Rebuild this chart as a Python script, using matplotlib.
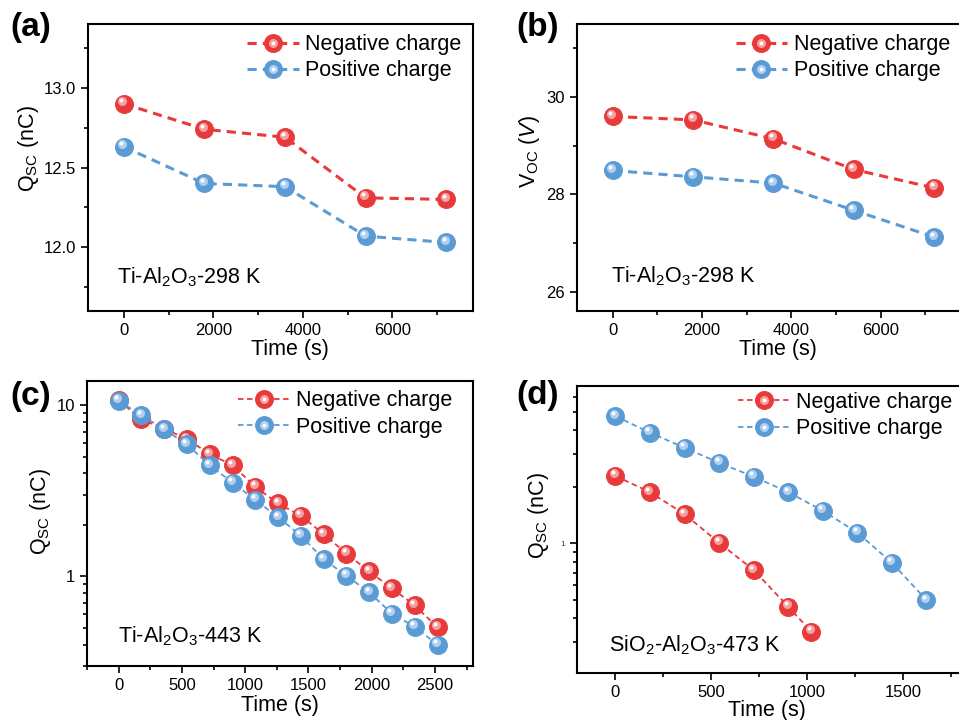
import numpy as np
import matplotlib.pyplot as plt
from matplotlib.transforms import offset_copy
from matplotlib.ticker import (AutoMinorLocator, FixedLocator, FuncFormatter,
                               NullFormatter)
from matplotlib.legend_handler import HandlerTuple

plt.rcParams['font.family'] = ['Liberation Sans', 'DejaVu Sans']
plt.rcParams['mathtext.fontset'] = 'custom'
plt.rcParams['mathtext.rm'] = 'Liberation Sans'
plt.rcParams['mathtext.it'] = 'Liberation Sans:italic'
plt.rcParams['mathtext.bf'] = 'Liberation Sans:bold'
plt.rcParams['mathtext.default'] = 'regular'

# (a) / (b): Ti-Al2O3 at 298 K
t_298 = [0, 1800, 3600, 5400, 7200]
q_298_neg = [12.90, 12.74, 12.69, 12.31, 12.30]
q_298_pos = [12.63, 12.40, 12.38, 12.07, 12.03]
v_298_neg = [29.60, 29.53, 29.14, 28.51, 28.13]
v_298_pos = [28.49, 28.36, 28.23, 27.67, 27.12]

# (c): Ti-Al2O3 at 443 K
t_443 = [0, 180, 360, 540, 720, 900, 1080, 1260, 1440, 1620, 1800, 1980,
         2160, 2340, 2520]
q_443_neg = [10.7, 8.26, 7.31, 6.34, 5.19, 4.46, 3.34, 2.67, 2.26, 1.77,
             1.36, 1.07, 0.851, 0.678, 0.504]
q_443_pos = [10.6, 8.75, 7.24, 5.90, 4.46, 3.53, 2.80, 2.22, 1.73, 1.26,
             1.01, 0.807, 0.607, 0.507, 0.400]

# (d): SiO2-Al2O3 at 473 K
t_473_neg = [0, 180, 360, 540, 720, 900, 1020]
q_473_neg = [2.28, 1.87, 1.43, 1.007, 0.722, 0.461, 0.340]
t_473_pos = [0, 180, 360, 540, 720, 900, 1080, 1260, 1440, 1620]
q_473_pos = [4.74, 3.87, 3.22, 2.68, 2.26, 1.87, 1.49, 1.14, 0.789, 0.50]

RED, RED_HI = '#e8393b', '#f5a0a0'
BLUE, BLUE_HI = '#5b9bd5', '#b0cff0'
FS = 15.5

fig = plt.figure(figsize=(9.59, 7.2), dpi=100)
ax_a = fig.add_axes([0.0918, 0.568, 0.4015, 0.3986])
ax_b = fig.add_axes([0.6017, 0.568, 0.4004, 0.3986])
ax_c = fig.add_axes([0.0907, 0.075, 0.4025, 0.3958])
ax_d = fig.add_axes([0.6017, 0.0653, 0.4004, 0.3986])


def sphere_line(ax, x, y, color, hi, lw, dashes, label):
    base, = ax.plot(x, y, color=color, lw=lw, dashes=dashes, marker='o',
                    ms=13, mfc=color, mec=color, mew=0.6, label=label)
    tr1 = offset_copy(ax.transData, fig=fig, x=-1.5, y=2.5, units='dots')
    tr2 = offset_copy(ax.transData, fig=fig, x=-2.5, y=3.5, units='dots')
    h1, = ax.plot(x, y, ls='none', marker='o', ms=6.5, mfc=hi, mec='none',
                  transform=tr1)
    h2, = ax.plot(x, y, ls='none', marker='o', ms=2.8, mfc='white',
                  mec='none', transform=tr2)
    return (base, h1, h2)


def style(ax):
    for s in ax.spines.values():
        s.set_linewidth(1.5)
    ax.tick_params(which='both', direction='out', top=False, right=False,
                   width=1.2, labelsize=12)
    ax.tick_params(which='major', length=5)
    ax.tick_params(which='minor', length=3)


def finish(ax, handles, lx, ly, note, nx, ny, xlab, ylab, ylx, yly):
    ax.legend(handles, ['Negative charge', 'Positive charge'],
              handler_map={tuple: HandlerTuple(ndivide=1)},
              loc='upper left', bbox_to_anchor=(lx, ly), frameon=False,
              fontsize=FS, handlelength=2.4, handletextpad=0.3,
              labelspacing=0.25, borderpad=0, borderaxespad=0, numpoints=1)
    ax.text(nx, ny, note, transform=ax.transAxes, va='center', fontsize=FS)
    ax.set_xlabel('Time (s)', fontsize=FS)
    ax.set_ylabel(ylab, fontsize=FS)
    ax.xaxis.set_label_coords(*xlab)
    ax.yaxis.set_label_coords(ylx, yly)


# (a) short-circuit charge at 298 K
hn = sphere_line(ax_a, t_298, q_298_neg, RED, RED_HI, 2.2, (3, 2), 'Negative charge')
hp = sphere_line(ax_a, t_298, q_298_pos, BLUE, BLUE_HI, 2.2, (3, 2), 'Positive charge')
style(ax_a)
ax_a.set_xlim(-800, 7800)
ax_a.set_ylim(11.6, 13.4)
ax_a.set_xticks([0, 2000, 4000, 6000])
ax_a.set_yticks([12.0, 12.5, 13.0])
ax_a.yaxis.set_major_formatter(FuncFormatter(lambda v, p: f'{v:.1f}'))
ax_a.xaxis.set_minor_locator(AutoMinorLocator(2))
ax_a.yaxis.set_minor_locator(AutoMinorLocator(2))
finish(ax_a, [hn, hp], 0.413, 0.965, r'Ti-Al$_2$O$_3$-298 K', 0.075, 0.118,
       (0.525, -0.099), r'Q$_{SC}$ (nC)', -0.122, 0.565)

# (b) open-circuit voltage at 298 K
hn = sphere_line(ax_b, t_298, v_298_neg, RED, RED_HI, 2.2, (3, 2), 'Negative charge')
hp = sphere_line(ax_b, t_298, v_298_pos, BLUE, BLUE_HI, 2.2, (3, 2), 'Positive charge')
style(ax_b)
ax_b.set_xlim(-800, 7800)
ax_b.set_ylim(25.6, 31.5)
ax_b.set_xticks([0, 2000, 4000, 6000])
ax_b.set_yticks([26, 28, 30])
ax_b.xaxis.set_minor_locator(AutoMinorLocator(2))
ax_b.yaxis.set_minor_locator(AutoMinorLocator(2))
finish(ax_b, [hn, hp], 0.413, 0.965, r'Ti-Al$_2$O$_3$-298 K', 0.089, 0.12,
       (0.524, -0.099), r'V$_{OC}$ ($\mathit{V}$)', -0.091, 0.555)

# (c) charge decay at 443 K, log scale
hn = sphere_line(ax_c, t_443, q_443_neg, RED, RED_HI, 1.3, (3, 2), 'Negative charge')
hp = sphere_line(ax_c, t_443, q_443_pos, BLUE, BLUE_HI, 1.3, (3, 2), 'Positive charge')
style(ax_c)
ax_c.set_yscale('log')
ax_c.set_xlim(-250, 2800)
ax_c.set_ylim(0.3, 13.85)
ax_c.set_xticks([0, 500, 1000, 1500, 2000, 2500])
ax_c.xaxis.set_minor_locator(AutoMinorLocator(2))
ax_c.yaxis.set_major_locator(FixedLocator([1, 10]))
ax_c.yaxis.set_major_formatter(FuncFormatter(lambda v, p: f'{v:g}'))
ax_c.yaxis.set_minor_locator(FixedLocator(
    [0.3, 0.4, 0.5, 0.6, 0.7, 0.8, 0.9, 2, 3, 4, 5, 6, 7, 8, 9]))
ax_c.yaxis.set_minor_formatter(NullFormatter())
finish(ax_c, [hn, hp], 0.391, 0.968, r'Ti-Al$_2$O$_3$-443 K', 0.08, 0.103,
       (0.5, -0.102), r'Q$_{SC}$ (nC)', -0.088, 0.541)

# (d) charge decay at 473 K, log scale
hn = sphere_line(ax_d, t_473_neg, q_473_neg, RED, RED_HI, 1.3, (3, 2), 'Negative charge')
hp = sphere_line(ax_d, t_473_pos, q_473_pos, BLUE, BLUE_HI, 1.3, (3, 2), 'Positive charge')
style(ax_d)
ax_d.set_yscale('log')
ax_d.set_xlim(-200, 1800)
ax_d.set_ylim(0.205, 6.85)
ax_d.set_xticks([0, 500, 1000, 1500])
ax_d.xaxis.set_minor_locator(AutoMinorLocator(2))
ax_d.yaxis.set_major_locator(FixedLocator([1]))
ax_d.yaxis.set_major_formatter(FuncFormatter(lambda v, p: f'{v:g}'))
ax_d.yaxis.set_minor_locator(FixedLocator(
    [0.3, 0.4, 0.5, 0.6, 0.7, 0.8, 0.9, 2, 3, 4, 5, 6]))
ax_d.yaxis.set_minor_formatter(NullFormatter())
ax_d.tick_params(axis='y', which='major', labelsize=6, labelcolor='#333355')
finish(ax_d, [hn, hp], 0.419, 0.979, r'SiO$_2$-Al$_2$O$_3$-473 K', 0.082, 0.098,
       (0.494, -0.094), r'Q$_{SC}$ (nC)', -0.068, 0.55)

# panel letters
for lab, x, y in [('(a)', 10, 12), ('(b)', 516, 12), ('(c)', 10, 381), ('(d)', 516, 380)]:
    fig.text(x / 959, 1 - y / 720, lab, fontsize=24, fontweight='bold',
             va='top', ha='left')

fig.savefig('out.png', dpi=100)
